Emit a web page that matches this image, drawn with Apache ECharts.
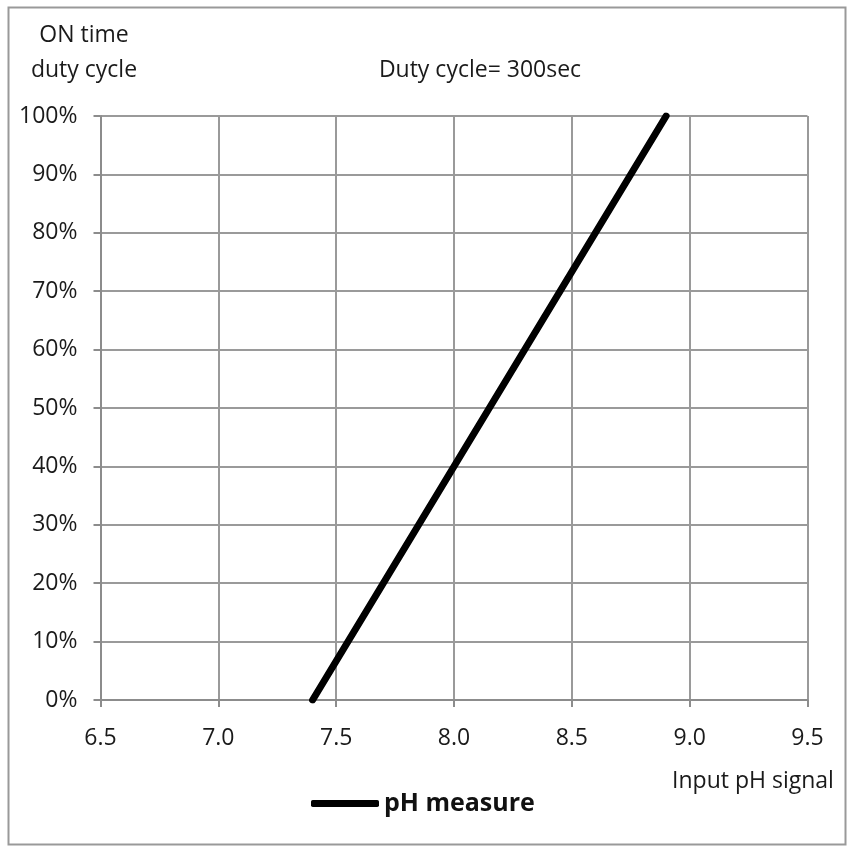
<!DOCTYPE html>
<html><head><meta charset="utf-8">
<script src="https://cdn.jsdelivr.net/npm/echarts@6/dist/echarts.min.js"></script>
<style>html,body{margin:0;padding:0;background:#fff}#c{width:848px;height:847px}</style>
</head><body><div id="c"></div>
<script>
const seriesName = 'pH measure';
const phValues = [7.4, 8.9];
const dutyValues = [0, 100];
const xTicks = [6.5, 7.0, 7.5, 8.0, 8.5, 9.0, 9.5];
const yTicks = [0, 10, 20, 30, 40, 50, 60, 70, 80, 90, 100];
const FONT = 'Open Sans';
const FS = 23;
const chart = echarts.init(document.getElementById('c'), null, {renderer: 'canvas'});
chart.setOption({
  backgroundColor: '#fff',
  animation: false,
  textStyle: {fontFamily: FONT},
  title: {
    text: 'Duty cycle= 300sec',
    left: 475, top: 54, textAlign: 'center',
    textStyle: {fontFamily: FONT, fontSize: FS, fontWeight: 'normal', color: '#1a1a1a'}
  },
  legend: {
    data: [seriesName],
    left: 306, top: 786,
    icon: 'roundRect',
    itemWidth: 68, itemHeight: 7, itemGap: 13,
    textStyle: {fontFamily: FONT, fontSize: 25, fontWeight: 'bold', color: '#111'}
  },
  grid: {left: 100.5, right: 40.5, top: 116, bottom: 147},
  xAxis: {
    type: 'value', min: xTicks[0], max: xTicks[xTicks.length - 1], interval: 0.5,
    axisLine: {lineStyle: {color: '#8c8c8c', width: 2}},
    axisTick: {show: true, length: 7, lineStyle: {color: '#8c8c8c', width: 2}},
    splitLine: {show: true, lineStyle: {color: '#9a9a9a', width: 2}},
    axisLabel: {fontFamily: FONT, fontSize: FS, color: '#1a1a1a', margin: 27, formatter: v => v.toFixed(1)}
  },
  yAxis: {
    type: 'value', min: yTicks[0], max: yTicks[yTicks.length - 1], interval: 10,
    axisLine: {show: true, lineStyle: {color: '#8c8c8c', width: 2}},
    axisTick: {show: true, length: 7, lineStyle: {color: '#8c8c8c', width: 2}},
    splitLine: {show: true, lineStyle: {color: '#9a9a9a', width: 2}},
    axisLabel: {fontFamily: FONT, fontSize: FS, color: '#1a1a1a', margin: 23, formatter: '{value}%'}
  },
  series: [{
    name: seriesName, type: 'line',
    data: phValues.map((x, i) => [x, dutyValues[i]]),
    showSymbol: false, symbol: 'none',
    lineStyle: {color: '#000', width: 7, cap: 'round'},
    itemStyle: {color: '#000'}
  }],
  graphic: [
    {type: 'rect', shape: {x: 8.5, y: 7.5, width: 837, height: 837}, style: {fill: 'none', stroke: '#999', lineWidth: 2}, silent: true, z: -1},
    {type: 'text', style: {text: 'ON time', x: 84, y: 35, textAlign: 'center', textVerticalAlign: 'middle', font: FS + 'px "Open Sans"', fill: '#1a1a1a'}},
    {type: 'text', style: {text: 'duty cycle', x: 84, y: 70, textAlign: 'center', textVerticalAlign: 'middle', font: FS + 'px "Open Sans"', fill: '#1a1a1a'}},
    {type: 'text', style: {text: 'Input pH signal', x: 753, y: 781, textAlign: 'center', textVerticalAlign: 'middle', font: FS + 'px "Open Sans"', fill: '#1a1a1a'}}
  ]
});
</script></body></html>
